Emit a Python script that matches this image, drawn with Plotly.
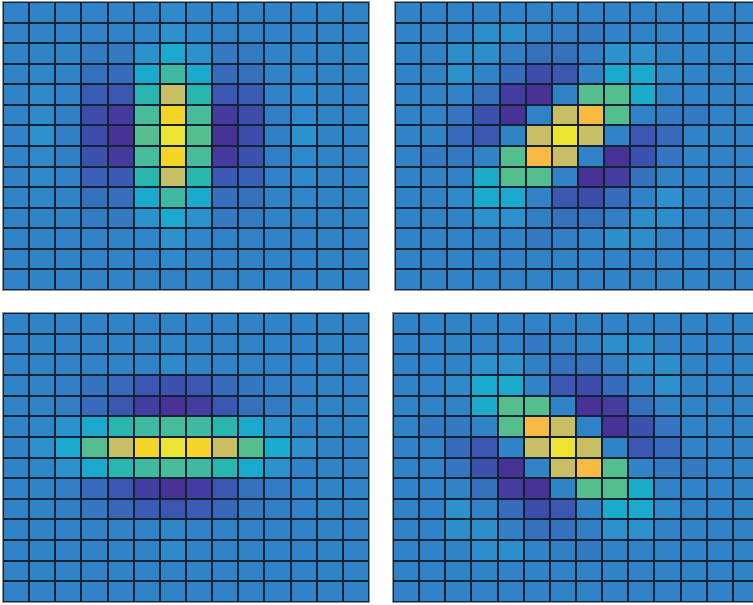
import plotly.graph_objects as go

# Filter responses on a 14 x 14 grid (row 0 at the top), one matrix per panel.
vertical = [
    [0, 0, 0, 0, 0, 0, 0.05, 0, 0, 0, 0, 0, 0, 0],
    [0, 0, 0, 0, 0, 0.03, 0.1, 0.03, 0, 0, 0, 0, 0, 0],
    [0, 0, 0, -0.08, -0.1, 0.12, 0.3, 0.12, -0.1, -0.08, 0, 0, 0, 0],
    [0, 0.03, 0, -0.2, -0.25, 0.3, 0.5, 0.3, -0.25, -0.2, 0, 0.03, 0, 0],
    [0, 0.05, 0, -0.4, -0.45, 0.45, 0.7, 0.45, -0.45, -0.4, 0, 0.05, 0, 0],
    [0, 0.05, -0.03, -0.55, -0.75, 0.52, 0.9, 0.52, -0.75, -0.55, -0.03, 0.05, 0, 0],
    [0, 0.1, -0.03, -0.55, -0.85, 0.55, 1.0, 0.55, -0.85, -0.55, -0.03, 0.1, 0, 0],
    [0, 0.05, -0.03, -0.5, -0.75, 0.52, 0.9, 0.52, -0.75, -0.5, -0.03, 0.05, 0, 0],
    [0, 0.05, 0, -0.35, -0.42, 0.45, 0.7, 0.45, -0.42, -0.35, 0, 0.05, 0, 0],
    [0, 0.03, 0, -0.2, -0.22, 0.3, 0.5, 0.3, -0.22, -0.2, 0, 0.03, 0, 0],
    [0, 0, 0, -0.08, -0.1, 0.12, 0.3, 0.12, -0.1, -0.08, 0, 0, 0, 0],
    [0, 0, 0, 0, 0, 0.03, 0.1, 0.03, 0, 0, 0, 0, 0, 0],
    [0, 0, 0, 0, 0, 0, 0.05, 0, 0, 0, 0, 0, 0, 0],
    [0, 0, 0, 0, 0, 0, 0, 0, 0, 0, 0, 0, 0, 0],
]

diagonal_up = [
    [0, 0, 0, 0, 0, 0, 0, 0, 0, 0, 0, 0, 0, 0],
    [0, 0, 0, 0.08, 0.08, 0, -0.05, -0.1, 0, 0, 0, 0, 0, 0],
    [0, 0, 0.08, 0.08, -0.05, -0.2, -0.2, -0.03, 0.1, 0.1, 0, 0, 0, 0],
    [0, 0, 0.1, 0, -0.25, -0.55, -0.45, 0, 0.3, 0.3, 0.05, 0, 0, 0],
    [0, 0, 0, -0.2, -0.72, -0.85, 0, 0.55, 0.55, 0.32, 0, 0, 0, 0],
    [0, 0, -0.15, -0.5, -0.85, 0, 0.7, 0.82, 0.55, 0, -0.1, -0.1, 0, 0],
    [0, 0, -0.25, -0.45, 0, 0.7, 1.0, 0.7, 0, -0.45, -0.25, 0, 0, 0],
    [0, -0.1, -0.1, 0, 0.55, 0.82, 0.7, 0, -0.85, -0.5, -0.15, 0, 0, 0],
    [0, 0, 0, 0.32, 0.55, 0.55, 0, -0.85, -0.72, -0.2, 0, 0, 0, 0],
    [0, 0, 0.05, 0.3, 0.3, 0, -0.45, -0.55, -0.25, 0, 0.1, 0, 0, 0],
    [0, 0, 0, 0.1, 0.1, -0.03, -0.2, -0.2, -0.05, 0.08, 0.08, 0, 0, 0],
    [0, 0, 0, 0, 0, -0.1, -0.05, 0, 0.08, 0.08, 0, 0, 0, 0],
    [0, 0, 0, 0, 0, 0, 0, 0, 0, 0, 0, 0, 0, 0],
    [0, 0, 0, 0, 0, 0, 0, 0, 0, 0, 0, 0, 0, 0],
]

horizontal = [
    [0, 0, 0, 0, 0, 0, 0, 0, 0, 0, 0, 0, 0, 0],
    [0, 0, 0, 0, 0, 0, 0.03, 0, 0, 0, 0, 0, 0, 0],
    [0, 0, 0, 0, 0, 0, 0.05, 0, 0, 0, 0, 0, 0, 0],
    [0, 0, -0.05, -0.18, -0.28, -0.45, -0.5, -0.45, -0.25, -0.12, -0.03, 0, 0, 0],
    [0, 0, -0.05, -0.25, -0.45, -0.7, -0.85, -0.7, -0.45, -0.2, -0.08, 0, 0, 0],
    [0, 0.03, 0.12, 0.3, 0.45, 0.5, 0.52, 0.5, 0.45, 0.3, 0.1, 0, 0, 0],
    [0, 0.1, 0.3, 0.55, 0.7, 0.9, 1.0, 0.9, 0.7, 0.55, 0.3, 0.1, 0, 0],
    [0, 0.03, 0.12, 0.3, 0.45, 0.5, 0.52, 0.5, 0.45, 0.3, 0.1, 0, 0, 0],
    [0, 0, -0.05, -0.25, -0.45, -0.7, -0.85, -0.7, -0.45, -0.2, -0.08, 0, 0, 0],
    [0, 0, -0.03, -0.12, -0.3, -0.4, -0.45, -0.4, -0.3, -0.1, -0.03, 0, 0, 0],
    [0, 0, 0, 0, 0, 0, 0.03, 0, 0, 0, 0, 0, 0, 0],
    [0, 0, 0, 0, 0, 0, 0.05, 0, 0, 0, 0, 0, 0, 0],
    [0, 0, 0, 0, 0, 0, 0, 0, 0, 0, 0, 0, 0, 0],
    [0, 0, 0, 0, 0, 0, 0, 0, 0, 0, 0, 0, 0, 0],
]

diagonal_down = [
    [0, 0, 0, 0, 0, 0, 0, 0, 0, 0, 0, 0, 0, 0],
    [0, 0, 0, 0, 0, -0.1, -0.05, 0, 0.08, 0.08, 0, 0, 0, 0],
    [0, 0, 0, 0.1, 0.1, -0.03, -0.2, -0.2, -0.05, 0.08, 0.08, 0, 0, 0],
    [0, 0, 0.05, 0.3, 0.3, 0, -0.45, -0.55, -0.25, 0, 0.1, 0, 0, 0],
    [0, 0, 0, 0.32, 0.55, 0.55, 0, -0.85, -0.72, -0.2, 0, 0, 0, 0],
    [0, -0.1, -0.1, 0, 0.55, 0.82, 0.7, 0, -0.85, -0.5, -0.15, 0, 0, 0],
    [0, 0, -0.25, -0.45, 0, 0.7, 1.0, 0.7, 0, -0.45, -0.25, 0, 0, 0],
    [0, 0, -0.15, -0.5, -0.85, 0, 0.7, 0.82, 0.55, 0, -0.1, -0.1, 0, 0],
    [0, 0, 0, -0.2, -0.72, -0.85, 0, 0.55, 0.55, 0.32, 0, 0, 0, 0],
    [0, 0, 0.1, 0, -0.25, -0.55, -0.45, 0, 0.3, 0.3, 0.05, 0, 0, 0],
    [0, 0, 0.08, 0.08, -0.05, -0.2, -0.2, -0.03, 0.1, 0.1, 0, 0, 0, 0],
    [0, 0, 0, 0.08, 0.08, 0, -0.05, -0.1, 0, 0, 0, 0, 0, 0],
    [0, 0, 0, 0, 0, 0, 0, 0, 0, 0, 0, 0, 0, 0],
    [0, 0, 0, 0, 0, 0, 0, 0, 0, 0, 0, 0, 0, 0],
]

columns = list(range(14))
rows = list(range(14))

# Parula-style palette, anchored so that 0 is the neutral blue
stops = [
    (-1.0, (74, 44, 140)), (-0.85, (72, 50, 150)), (-0.7, (68, 62, 162)),
    (-0.55, (62, 76, 172)), (-0.4, (58, 92, 180)), (-0.25, (55, 108, 188)),
    (-0.1, (52, 122, 195)), (0.0, (48, 131, 199)), (0.1, (44, 145, 205)),
    (0.3, (25, 170, 205)), (0.45, (40, 182, 175)), (0.55, (85, 190, 142)),
    (0.7, (200, 190, 100)), (0.82, (248, 186, 64)), (0.9, (244, 212, 38)),
    (1.0, (236, 228, 48)),
]
colorscale = [[(v + 1) / 2, "rgb(%d,%d,%d)" % c] for v, c in stops]

W, H = 753, 605
cell_w = (369 - 3) / 14

# panel: (matrix, left px, right px, top px, bottom px, clipped on the right)
panels = [
    (vertical, 3, 369, 2, 290, False),
    (diagonal_up, 395, W, 2, 290, True),
    (horizontal, 3, 369, 313, 602, False),
    (diagonal_down, 393, W, 313, 602, True),
]

fig = go.Figure()
for i, (z, x0, x1, y0, y1, clipped) in enumerate(panels):
    sfx = "" if i == 0 else str(i + 1)
    fig.add_trace(go.Heatmap(
        z=z, x=columns, y=rows,
        colorscale=colorscale, zmin=-1, zmax=1, showscale=False,
        xgap=2, ygap=2, hoverinfo="skip",
        xaxis="x" + sfx, yaxis="y" + sfx,
    ))
    x_end = -0.5 + (x1 - x0) / cell_w if clipped else 13.5
    common = dict(showticklabels=False, ticks="", showgrid=False,
                  zeroline=False, showline=True, linecolor="#8f959c",
                  linewidth=1)
    fig.layout["xaxis" + sfx] = dict(
        domain=[x0 / W, x1 / W], range=[-0.5, x_end],
        anchor="y" + sfx, mirror=True, **common)
    fig.layout["yaxis" + sfx] = dict(
        domain=[1 - y1 / H, 1 - y0 / H], range=[13.5, -0.5],
        anchor="x" + sfx, mirror=not clipped, **common)

fig.update_layout(
    width=W, height=H,
    margin=dict(l=0, r=0, t=0, b=0),
    paper_bgcolor="white",
    plot_bgcolor="rgb(20,34,54)",
    showlegend=False,
)

fig.write_html("out.html")
